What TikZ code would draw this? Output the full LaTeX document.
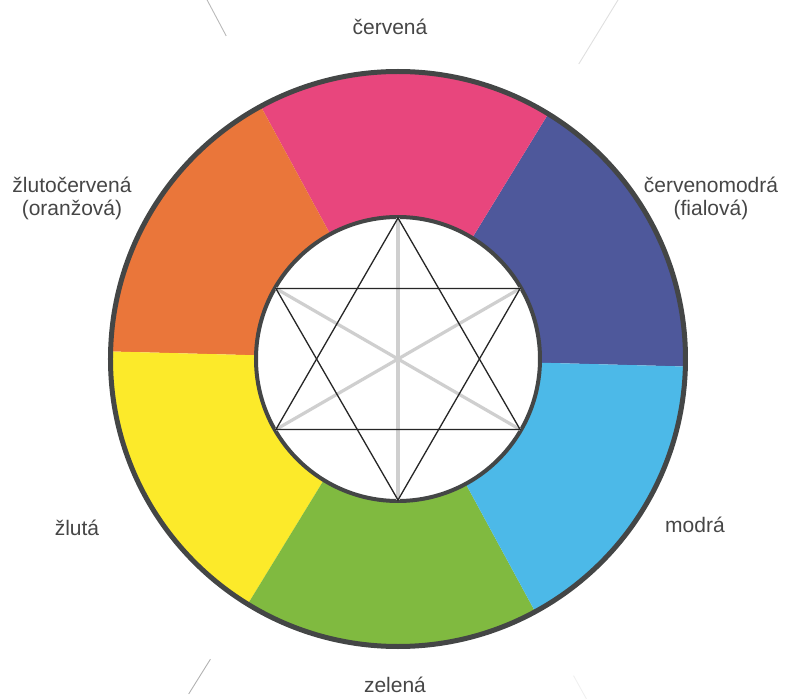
\documentclass[tikz,border=0pt]{standalone}
\usepackage{fontspec}
\setmainfont{Liberation Sans}
\usepackage{tikz}
\usetikzlibrary{calc}

\definecolor{wheelred}{RGB}{232,70,125}
\definecolor{wheelviolet}{RGB}{78,88,155}
\definecolor{wheelblue}{RGB}{76,185,232}
\definecolor{wheelgreen}{RGB}{128,186,64}
\definecolor{wheelyellow}{RGB}{252,234,42}
\definecolor{wheelorange}{RGB}{234,118,58}
\definecolor{rimgray}{RGB}{68,70,70}
\definecolor{labelgray}{RGB}{70,70,70}

\tikzset{
  label text/.style={text=labelgray, font=\fontsize{21}{23}\selectfont, align=center, inner sep=0pt},
  star line/.style={line width=1.3pt, black!85},
  axis line/.style={line width=3.2pt, gray!38},
  guide line/.style={line width=0.9pt}
}

\begin{document}
\begin{tikzpicture}[x=1pt, y=1pt]
        \useasboundingbox (-398,-340) rectangle (390,359);

        % Colour segments
        \begin{scope}[rotate=-1.5]
          \fill[wheelviolet] (0,0) -- (0:288) arc (0:60:288) -- cycle;
          \fill[wheelred]    (0,0) -- (60:288) arc (60:120:288) -- cycle;
          \fill[wheelorange] (0,0) -- (120:288) arc (120:180:288) -- cycle;
          \fill[wheelyellow] (0,0) -- (180:288) arc (180:240:288) -- cycle;
          \fill[wheelgreen]  (0,0) -- (240:288) arc (240:300:288) -- cycle;
          \fill[wheelblue]   (0,0) -- (300:288) arc (300:360:288) -- cycle;
        \end{scope}

        % Outer rim
        \draw[rimgray, line width=5pt] (0,0) circle (287.5);

        % Inner disk
        \filldraw[fill=white, draw=rimgray, line width=4pt] (0,0) circle (142);

        % Faint guides outside the wheel
        \draw[guide line, gray!55] (118:366) -- (118:410);
        \draw[guide line, gray!25] (58.5:346) -- (58.5:425);
        \draw[guide line, gray!60] (238:354) -- (238:395);
        \draw[guide line, gray!12] (299:362) -- (299:400);

        % Star corners
        \coordinate (s30)  at (30:141);
        \coordinate (s90)  at (90:141);
        \coordinate (s150) at (150:141);
        \coordinate (s210) at (210:141);
        \coordinate (s270) at (270:141);
        \coordinate (s330) at (330:141);

        % Gray axes
        \draw[axis line] (s90) -- (s270);
        \draw[axis line] (s150) -- (s330);
        \draw[axis line] (s30) -- (s210);

        % Two triangles
        \draw[star line] (s90) -- (s210) -- (s330) -- cycle;
        \draw[star line] (s270) -- (s30) -- (s150) -- cycle;

        % Colour names
        \node[label text] (lbl-red) at (-8,332) {červená};
        \node[label text] (lbl-orange) at (-326,161) {žlutočervená\\(oranžová)};
        \node[label text] (lbl-violet) at (313,161) {červenomodrá\\(fialová)};
        \node[label text] (lbl-yellow) at (-321,-169) {žlutá};
        \node[label text] (lbl-blue) at (297,-166) {modrá};
        \node[label text, anchor=base] (lbl-green) at (-3,-333) {zelená};
    \end{tikzpicture}
\end{document}
